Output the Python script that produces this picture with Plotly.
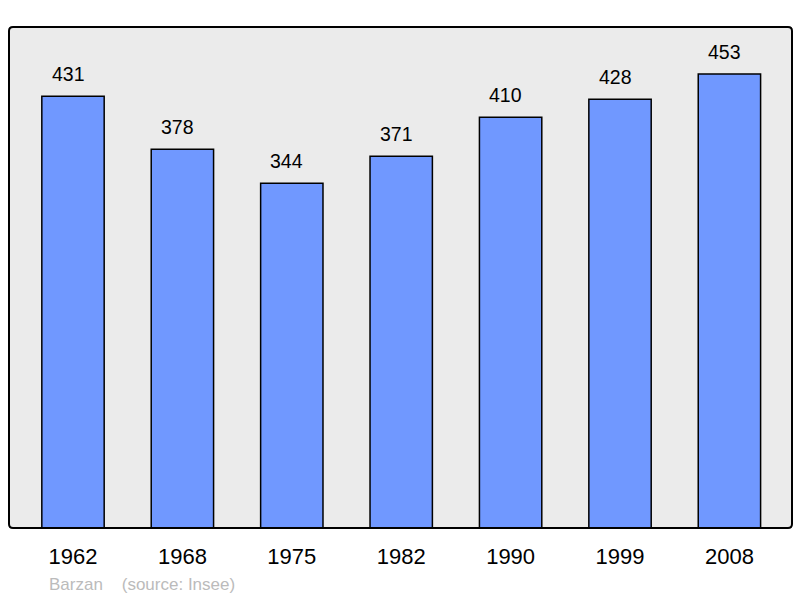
import plotly.graph_objects as go

years = ["1962", "1968", "1975", "1982", "1990", "1999", "2008"]
population = [431, 378, 344, 371, 410, 428, 453]

fig = go.Figure()
fig.add_trace(go.Bar(
    x=list(range(len(years))), y=population, width=0.57,
    marker=dict(color="#7098ff", line=dict(color="#000000", width=1.5)),
    hoverinfo="skip",
))
for i, v in enumerate(population):
    fig.add_annotation(x=i, y=v, text=str(v), showarrow=False, yanchor="bottom",
                       yshift=9, xshift=-5,
                       font=dict(size=19.5, color="#000000", family="Liberation Sans, Arial"))

fig.add_annotation(xref="paper", yref="paper", x=0.049, y=-0.113, xanchor="left", yanchor="middle",
                   text="Barzan&nbsp;&nbsp;&nbsp;&nbsp;(source: Insee)", showarrow=False,
                   font=dict(size=17, color="#bbbbbb", family="Liberation Sans, Arial"))

# rounded border of the plot area
rx, ry = 4 / 783, 4 / 501
path = (f"M {rx},0 L {1-rx},0 Q 1,0 1,{ry} L 1,{1-ry} Q 1,1 {1-rx},1 "
        f"L {rx},1 Q 0,1 0,{1-ry} L 0,{ry} Q 0,0 {rx},0 Z")
fig.add_shape(type="path", xref="paper", yref="paper", path=path,
              line=dict(color="#000000", width=2), layer="above")

fig.update_layout(
    width=800, height=598,
    margin=dict(l=9, r=8, t=27, b=70),
    paper_bgcolor="#ffffff", plot_bgcolor="#ebebeb",
    showlegend=False,
    font=dict(family="Liberation Sans, Arial", color="#000000"),
    xaxis=dict(range=[-0.585, 6.572], showgrid=False, zeroline=False,
               tickmode="array", tickvals=list(range(len(years))), ticktext=years,
               ticks="outside", ticklen=9, tickcolor="rgba(0,0,0,0)",
               tickfont=dict(size=22, color="#000000"), fixedrange=True),
    yaxis=dict(range=[0, 500], showgrid=False, zeroline=False, showticklabels=False, fixedrange=True),
)
fig.write_html("out.html", config={"displayModeBar": False},
               post_script="document.body.style.margin='0';document.body.style.overflow='hidden';")
